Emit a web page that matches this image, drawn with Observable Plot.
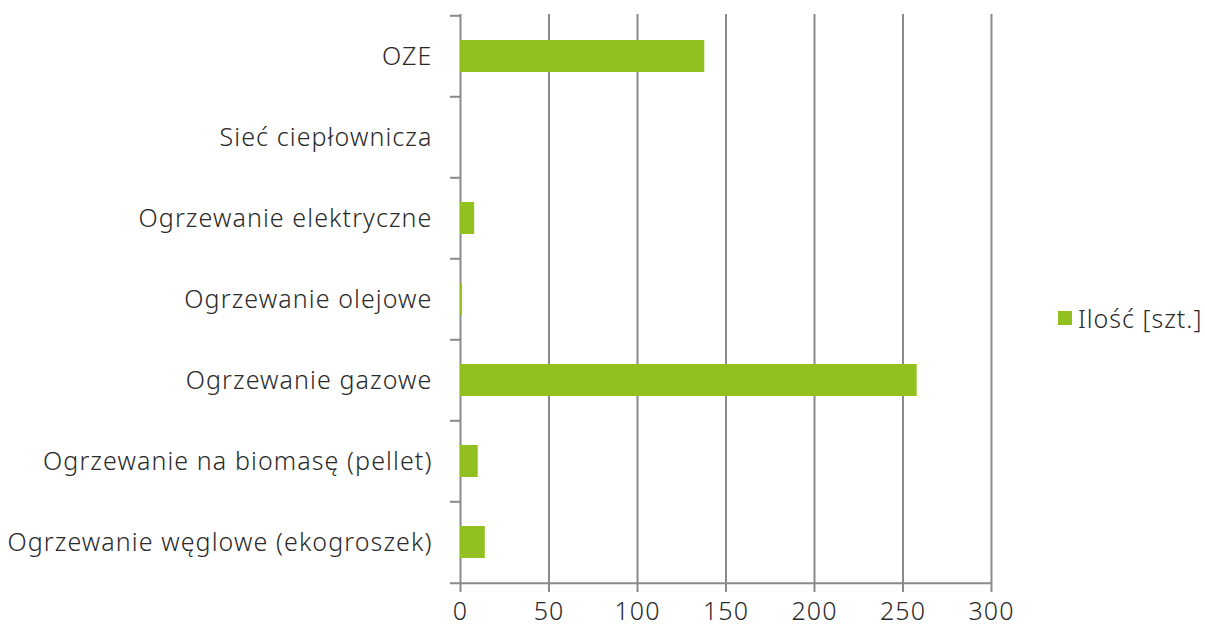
<!DOCTYPE html>
<html><head><meta charset="utf-8">
<script src="https://cdn.jsdelivr.net/npm/d3@7"></script>
<script src="https://cdn.jsdelivr.net/npm/@observablehq/plot@0.6"></script>
<style>
body{margin:0;background:#fff;font-family:"Noto Sans",sans-serif;}
#wrap{position:relative;width:1205px;height:630px;}
#legend{position:absolute;left:1058px;top:301px;display:flex;align-items:center;font-size:25px;letter-spacing:1px;color:#2a2a2a;font-weight:300;white-space:nowrap;}
#legend span.sw{display:inline-block;width:14px;height:14px;background:#92C020;margin-right:6px;}
svg text{letter-spacing:1.1px;font-weight:300;}
</style></head>
<body><div id="wrap"><div id="legend"><span class="sw"></span><span>Ilość [szt.]</span></div></div>
<script>
const categories = ["OZE","Sieć ciepłownicza","Ogrzewanie elektryczne","Ogrzewanie olejowe","Ogrzewanie gazowe","Ogrzewanie na biomasę (pellet)","Ogrzewanie węglowe (ekogroszek)"];
const values = [138, 0, 8, 1, 258, 10, 14];
const xTicks = [0, 50, 100, 150, 200, 250, 300];
const seriesName = "Ilość [szt.]";

const data = categories.map((c, i) => ({cat: c, value: values[i]}));
const gray = "#8a8a8a";
const green = "#92C020";
const W = 1205, H = 630, mL = 460, mR = 214, mT = 14, mB = 46;
const step = (H - mT - mB) / categories.length;
const tickLen = 10 * 300 / (W - mL - mR);

const chart = Plot.plot({
  width: W, height: H,
  marginLeft: mL, marginRight: mR, marginTop: mT, marginBottom: mB,
  style: {fontFamily: '"Noto Sans",sans-serif', background: "#fff", overflow: "visible"},
  x: {domain: [0, 300], axis: null, label: null},
  y: {domain: categories, paddingInner: 0.6, paddingOuter: 0.3, axis: null, label: null},
  marks: [
    Plot.ruleX(xTicks, {stroke: gray, strokeWidth: 2, insetBottom: -8}),
    Plot.ruleY(categories, {y: d => d, x1: -tickLen, x2: 0, dy: -step/2, stroke: gray, strokeWidth: 2}),
    Plot.ruleY([categories[categories.length-1]], {y: d => d, x1: -tickLen, x2: 300, dy: step/2, stroke: gray, strokeWidth: 2}),
    Plot.barX(data, {x: "value", y: "cat", fill: green}),
    Plot.axisX({ticks: xTicks, tickSize: 0, tickPadding: 18, fontSize: 25, fill: "#2a2a2a", label: null, tickFormat: d => String(d)}),
    Plot.axisY({tickSize: 0, tickPadding: 28, fontSize: 25, fill: "#2a2a2a", label: null})
  ]
});
document.getElementById("wrap").prepend(chart);
</script></body></html>
